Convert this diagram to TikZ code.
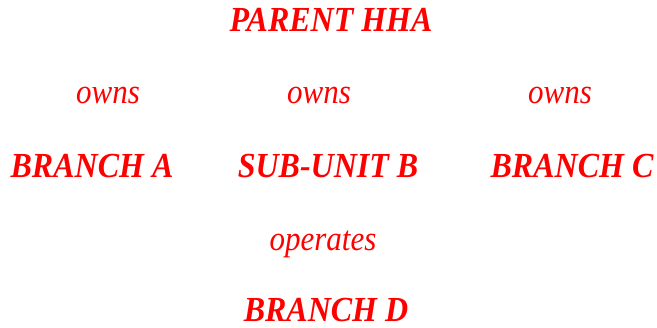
\documentclass[tikz,border=0pt]{standalone}
\usepackage{fontspec}
\setmainfont{Liberation Serif}
\definecolor{txtred}{RGB}{255,0,0}
\tikzset{
  entity/.style={text=txtred, font=\fontsize{32}{36}\selectfont\bfseries\itshape, anchor=base, inner sep=0pt, yscale=1.1, transform shape},
  relation/.style={text=txtred, font=\fontsize{31}{35}\selectfont\itshape, anchor=base, inner sep=0pt, yscale=1.12, transform shape}
}
\begin{document}
\begin{tikzpicture}[x=1pt,y=1pt]
\useasboundingbox (0,0) rectangle (657,328);
\node[entity] (parent) at (331,296) {PARENT HHA};
\node[relation] (owns1) at (108,224) {owns};
\node[relation] (owns2) at (319,224) {owns};
\node[relation] (owns3) at (560,224) {owns};
\node[entity] (brancha) at (92,150) {BRANCH A};
\node[entity] (subunitb) at (328,150) {SUB-UNIT B};
\node[entity] (branchc) at (572,150) {BRANCH C};
\node[relation] (operates) at (323,77) {operates};
\node[entity] (branchd) at (326,6) {BRANCH D};
\end{tikzpicture}
\end{document}
